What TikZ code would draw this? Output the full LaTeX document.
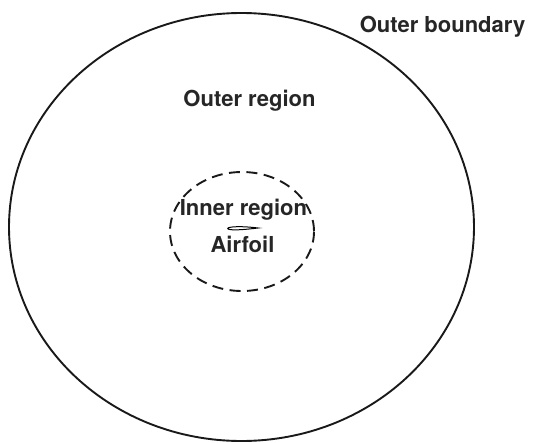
\documentclass[tikz,border=0pt]{standalone}
\usepackage{fontspec}
\setmainfont{TeX Gyre Heros}
\begin{document}
\begin{tikzpicture}[x=1pt,y=-1pt,
  lbl/.style={font=\fontsize{22}{25}\selectfont\bfseries, inner sep=0pt, text=black!85, anchor=base},
  bound/.style={line width=1.9pt, draw=black!90},
  ]
\useasboundingbox (0,0) rectangle (533,442);
\draw[bound] (241.5,227) ellipse [x radius=232.5, y radius=214];
\draw[bound, dash pattern=on 11pt off 6.5pt] (242,231.5) ellipse [x radius=72, y radius=59.5];
\node[lbl] (ob) at (442.5,32) {Outer boundary};
\node[lbl] (or) at (249.5,106.5) {Outer region};
\node[lbl] (ir) at (243.5,215) {Inner region};
\node[lbl] (af) at (242.5,252) {Airfoil};
\draw[line width=1pt] (227.5,228.5) .. controls (229,226) and (245,226.3) .. (258,228) .. controls (245,229.6) and (229,231) .. (227.5,228.5);
\end{tikzpicture}
\end{document}
